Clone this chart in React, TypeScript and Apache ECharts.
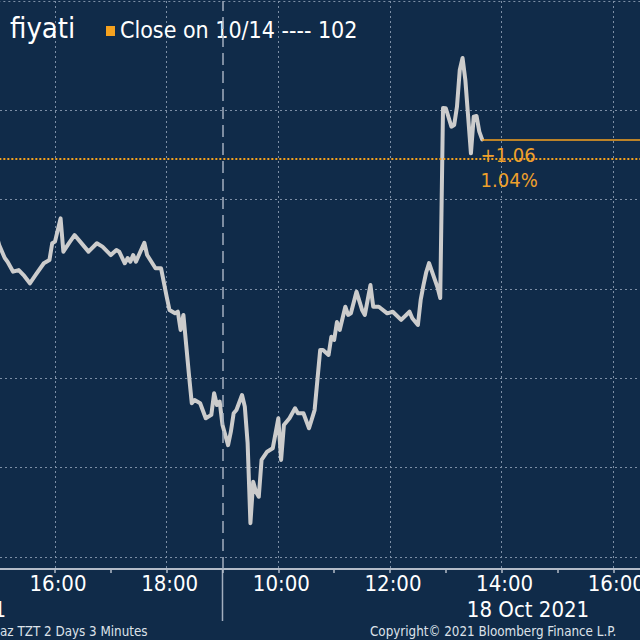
import React, { useEffect, useRef } from 'react';
import * as echarts from 'echarts';

// ---------- data ----------
const TITLE_TEXT = 'fiyati';
const PREV_CLOSE = 102;
const LEGEND_TEXT = `Close on 10/14 ---- ${PREV_CLOSE}`;
const DAY1_LABEL = '15 Oct 2021';
const DAY2_LABEL = '18 Oct 2021';
const FOOT_LEFT = 'az TZT 2 Days 3 Minutes';
const FOOT_RIGHT = 'Copyright\u00A9 2021 Bloomberg Finance L.P.';

// 15 Oct 2021 (3-minute bars)
const DAY1_TIMES = ['14:57', '15:00', '15:06', '15:09', '15:15', '15:21', '15:27', '15:33', '15:39', '15:48', '15:54', '15:57', '16:00', '16:06', '16:09', '16:15', '16:21', '16:27', '16:36', '16:45', '16:51', '17:00', '17:06', '17:09', '17:15', '17:18', '17:21', '17:24', '17:27', '17:36', '17:39', '17:48', '17:54', '18:00', '18:03', '18:09', '18:12', '18:15', '18:18', '18:21', '18:24', '18:27', '18:30', '18:36', '18:42', '18:48', '18:51', '18:54', '18:57'];
const DAY1_VALUES = [97.71, 97.15, 96.42, 96.22, 95.66, 95.75, 95.42, 95.01, 95.47, 96.13, 96.31, 97.25, 97.34, 98.64, 96.78, 97.26, 97.71, 97.34, 96.78, 97.25, 97.06, 96.59, 96.87, 96.78, 96.13, 96.42, 96.22, 96.59, 96.22, 97.28, 96.59, 95.85, 95.85, 94.26, 93.52, 93.33, 93.42, 92.40, 93.24, 91.56, 89.88, 88.30, 88.48, 88.30, 87.46, 87.65, 88.86, 88.20, 88.39];

// 18 Oct 2021 (3-minute bars)
const DAY2_TIMES = ['09:00', '09:06', '09:09', '09:12', '09:15', '09:21', '09:24', '09:27', '09:30', '09:33', '09:36', '09:39', '09:42', '09:48', '09:54', '10:00', '10:03', '10:06', '10:12', '10:18', '10:21', '10:27', '10:33', '10:39', '10:42', '10:45', '10:48', '10:54', '10:57', '11:00', '11:03', '11:06', '11:12', '11:15', '11:18', '11:24', '11:30', '11:33', '11:39', '11:42', '11:48', '11:57', '12:03', '12:12', '12:21', '12:24', '12:30', '12:33', '12:36', '12:39', '12:42', '12:51', '12:54', '12:57', '13:00', '13:06', '13:09', '13:12', '13:15', '13:18', '13:21', '13:24', '13:27', '13:30', '13:33', '13:36', '13:39'];
const DAY2_VALUES = [87.08, 85.96, 86.71, 87.74, 87.92, 88.76, 88.11, 86.08, 81.59, 83.91, 83.35, 83.07, 85.13, 85.59, 85.78, 87.46, 85.13, 87.08, 87.46, 88.02, 87.74, 87.74, 86.90, 87.92, 89.60, 91.28, 91.28, 91.00, 92.02, 91.84, 92.84, 92.40, 93.70, 93.24, 93.33, 94.54, 93.52, 93.24, 94.91, 93.70, 93.70, 93.33, 93.42, 92.96, 93.42, 93.05, 92.68, 94.08, 94.91, 95.64, 96.14, 94.80, 94.19, 104.81, 104.80, 103.77, 103.86, 104.89, 106.94, 107.61, 106.38, 104.33, 102.28, 104.33, 104.37, 103.49, 103.06];

// ---------- axis set-up (trading-time axis, overnight gap removed) ----------
const DAY_SHIFT = 10; // day 2 09:00 follows day 1 19:00
const DAY_BREAK = 19;
const X_MIN = 14;
const X_MAX = 28;
const X_INTERVAL = 2;
const Y_GRID_MIN = 79.7;
const Y_GRID_MAX = 109;
const Y_GRID_INTERVAL = 5;
const Y_DATA_MIN = 79.029;
const Y_DATA_MAX = 110.8;

// ---------- styles ----------
const FONT = '"DejaVu Sans Condensed", "DejaVu Sans", sans-serif';
const BG = '#102b49';
const GRID_COLOR = '#7d8fa6';
const AXIS_COLOR = '#b3bcc8';
const SEP_COLOR = '#a3afbf';
const LINE_COLOR = '#cccccc';
const ORANGE = '#f5a21f';
const ORANGE_TEXT = '#efa12c';
const WHITE = '#ffffff';
const FOOT_COLOR = '#dde2e9';

function toHours(time: string, day: number): number {
  const [h, m] = time.split(':').map(Number);
  return h + m / 60 + day * DAY_SHIFT;
}

const PRICE_DATA: [number, number][] = [
  ...DAY1_TIMES.map((t, i) => [toHours(t, 0), DAY1_VALUES[i]] as [number, number]),
  ...DAY2_TIMES.map((t, i) => [toHours(t, 1), DAY2_VALUES[i]] as [number, number]),
];
const LAST = PRICE_DATA[PRICE_DATA.length - 1];
const CHANGE = LAST[1] - PREV_CLOSE;
const CHANGE_PCT = (CHANGE / PREV_CLOSE) * 100;

function hourLabel(v: number): string {
  const h = v >= DAY_BREAK ? v - DAY_SHIFT : v;
  return `${String(h).padStart(2, '0')}:00`;
}

const dotted = { color: GRID_COLOR, width: 1, type: [2, 3] as number[] };

export default function App() {
  const ref = useRef<HTMLDivElement>(null);

  useEffect(() => {
    const el = ref.current;
    if (!el) return;
    const chart = echarts.init(el, undefined, { renderer: 'svg' });

    const option: any = {
      animation: false,
      backgroundColor: BG,
      grid: [
        { left: -56.66, right: -84.96, top: 1, bottom: 71, containLabel: false, outerBoundsMode: 'none' },
        { left: 0, right: 0, top: 33.17, bottom: 83, containLabel: false, outerBoundsMode: 'none' },
      ],
      xAxis: [
        {
          type: 'value',
          gridIndex: 0,
          min: X_MIN,
          max: X_MAX,
          interval: X_INTERVAL,
          axisLine: { show: true, lineStyle: { color: AXIS_COLOR, width: 2 } },
          axisTick: { show: true, length: 4, lineStyle: { color: AXIS_COLOR, width: 1.5 } },
          minorTick: { show: true, splitNumber: 2, length: 4, lineStyle: { color: AXIS_COLOR, width: 1.5 } },
          splitLine: { show: true, lineStyle: dotted },
          axisLabel: {
            show: true,
            formatter: hourLabel,
            color: WHITE,
            fontSize: 22,
            fontFamily: FONT,
            margin: 3,
            padding: [0, 0, 0, 6],
            showMinLabel: false,
            showMaxLabel: false,
          },
        },
        { type: 'value', gridIndex: 1, min: 0, max: 1, show: false },
      ],
      yAxis: [
        {
          type: 'value',
          gridIndex: 0,
          min: Y_DATA_MIN,
          max: Y_DATA_MAX,
          interval: 1000,
          axisLine: { show: false },
          axisTick: { show: false },
          axisLabel: { show: false },
          splitLine: { show: true, showMinLine: false, showMaxLine: true, lineStyle: dotted },
        },
        {
          type: 'value',
          gridIndex: 1,
          min: Y_GRID_MIN,
          max: Y_GRID_MAX,
          interval: Y_GRID_INTERVAL,
          axisLine: { show: false },
          axisTick: { show: false },
          axisLabel: { show: false },
          splitLine: { show: true, showMinLine: true, showMaxLine: false, lineStyle: dotted },
        },
      ],
      series: [
        {
          type: 'line',
          xAxisIndex: 0,
          yAxisIndex: 0,
          data: [],
          z: 1,
          silent: true,
          markLine: {
            silent: true,
            symbol: 'none',
            animation: false,
            label: { show: false },
            data: [
              { yAxis: PREV_CLOSE, lineStyle: { color: ORANGE, width: 2, type: [2, 2] } },
              { xAxis: DAY_BREAK, lineStyle: { color: SEP_COLOR, width: 1.5, type: [12, 6] } },
            ],
          },
        },
        {
          type: 'line',
          xAxisIndex: 0,
          yAxisIndex: 0,
          data: PRICE_DATA,
          showSymbol: false,
          silent: true,
          z: 3,
          lineStyle: { color: LINE_COLOR, width: 4, join: 'round', cap: 'round' },
          markLine: {
            silent: true,
            symbol: 'none',
            animation: false,
            label: { show: false },
            lineStyle: { color: ORANGE, width: 1.5, type: 'solid' },
            data: [[{ coord: [LAST[0], LAST[1]] }, { coord: [X_MAX, LAST[1]] }]],
          },
          markPoint: {
            silent: true,
            animation: false,
            symbol: 'rect',
            symbolSize: 1,
            itemStyle: { color: 'rgba(0,0,0,0)' },
            label: {
              show: true,
              position: [-1, 4],
              align: 'left',
              verticalAlign: 'top',
              color: ORANGE_TEXT,
              fontSize: 20,
              lineHeight: 25,
              fontFamily: FONT,
              formatter: () => `${CHANGE >= 0 ? '+' : ''}${CHANGE.toFixed(2)}\n${CHANGE_PCT.toFixed(2)}%`,
            },
            data: [{ coord: [LAST[0], LAST[1]], value: CHANGE }],
          },
        },
      ],
    };

    chart.setOption(option);

    const sepX = chart.convertToPixel({ xAxisIndex: 0 }, DAY_BREAK) as number;
    const axisY = chart.convertToPixel({ yAxisIndex: 0 }, Y_DATA_MIN) as number;

    const txt = (text: string, x: number, y: number, size: number, fill: string, align = 'left') => ({
      type: 'text',
      x,
      y,
      silent: true,
      style: {
        text,
        fill,
        fontSize: size,
        fontFamily: FONT,
        align,
        textAlign: align,
        verticalAlign: 'middle',
        textVerticalAlign: 'middle',
      },
    });

    chart.setOption({
      graphic: [
        {
          type: 'line',
          silent: true,
          shape: { x1: sepX, y1: axisY, x2: sepX, y2: 621 },
          style: { stroke: SEP_COLOR, lineWidth: 1.5 },
        },
        txt(TITLE_TEXT, 10, 28.3, 29, WHITE),
        { type: 'rect', silent: true, shape: { x: 106, y: 26, width: 9, height: 10 }, style: { fill: ORANGE } },
        txt(LEGEND_TEXT, 120, 30, 23, WHITE),
        txt(DAY2_LABEL, 528, 609, 22, WHITE, 'center'),
        txt(DAY1_LABEL, 6, 609, 22, WHITE, 'right'),
        txt(FOOT_LEFT, 0, 631.5, 13.3, FOOT_COLOR),
        txt(FOOT_RIGHT, 370, 631.5, 13.3, FOOT_COLOR),
      ],
    });

    return () => chart.dispose();
  }, []);

  return <div ref={ref} style={{ position: 'fixed', left: 0, top: 0, width: 640, height: 640 }} />;
}
